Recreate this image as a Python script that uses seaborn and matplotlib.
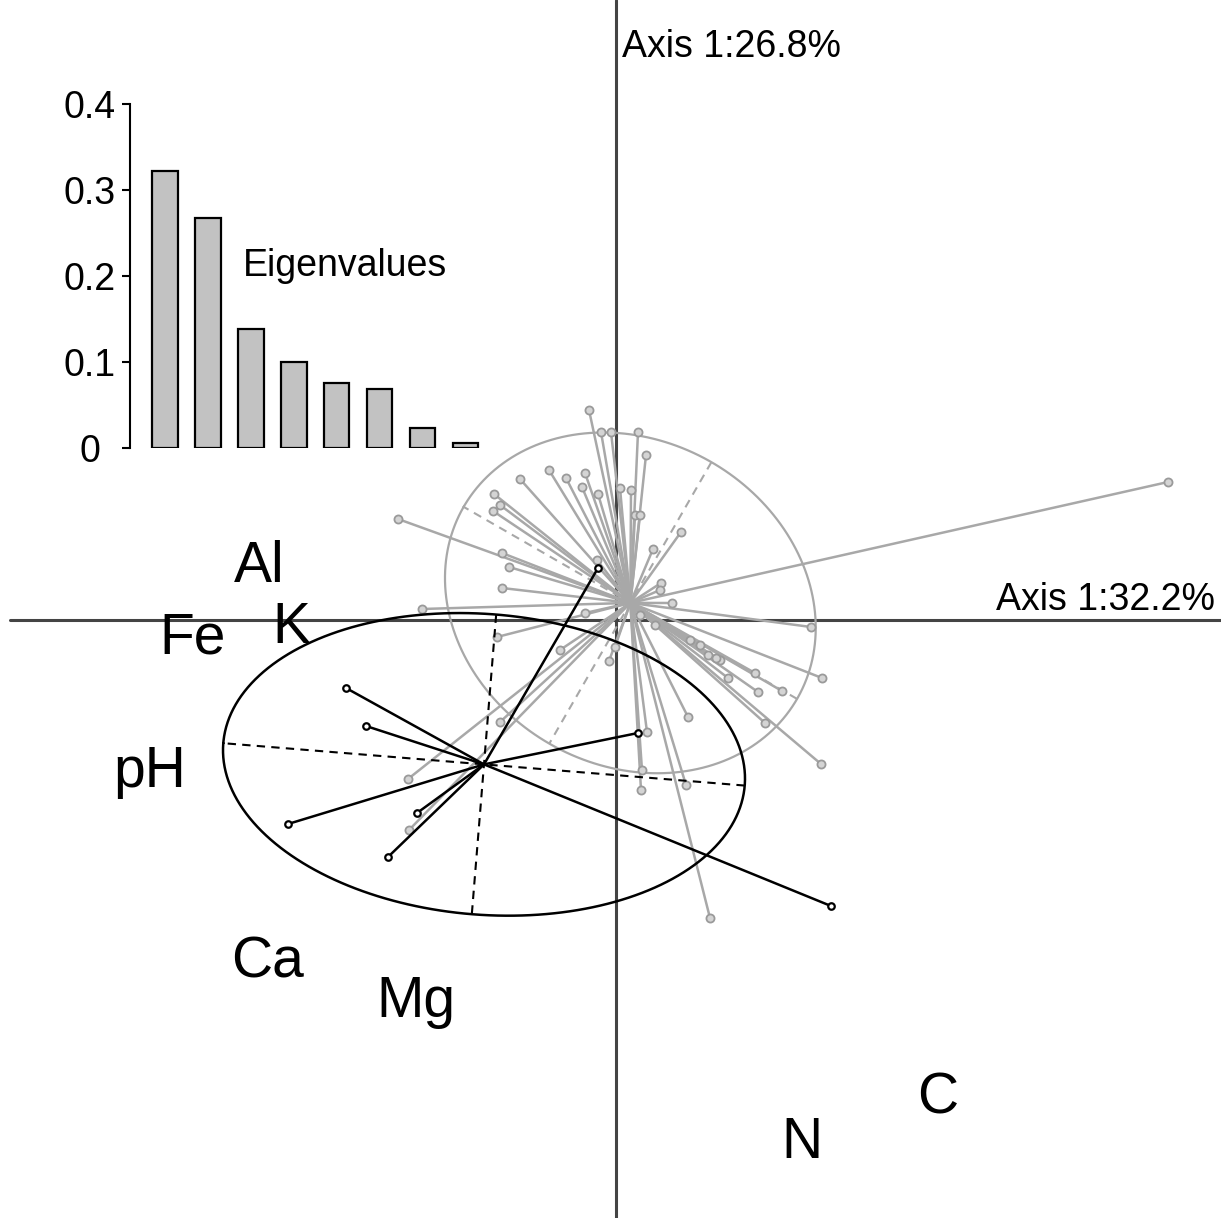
import numpy as np
import pandas as pd
import matplotlib
matplotlib.use("Agg")
import matplotlib.pyplot as plt
import seaborn as sns

# ---------------- data ----------------
eig_labels = ["1", "2", "3", "4", "5", "6", "7", "8"]
eig_values = [0.322, 0.268, 0.138, 0.0995, 0.0757, 0.068, 0.0226, 0.005]
eig_ticks = [0, 0.1, 0.2, 0.3, 0.4]
eig_ticklabels = ["0", "0.1", "0.2", "0.3", "0.4"]

# group A (black)
black_x = [-2.70, -2.50, -3.28, -1.99, -2.28, 0.22, 2.15, -0.18]
black_y = [-0.68, -1.06, -2.04, -1.93, -2.37, -1.13, -2.86, 0.52]

# group B (grey)
gray_x = [-0.27, -0.15, -0.05, 0.22, 0.30, -0.50, -0.31, -0.34, -0.18, 0.04,
          0.15, 0.19, 0.24, 0.65, 0.37, -0.19, -0.67, -0.96, -1.22, -1.16,
          -1.23, -1.14, -1.07, -1.14, -0.31, 0.56, 1.95, 2.06, 1.66, 1.39,
          1.42, 1.04, 1.12, 1.49, 0.72, 0.31, 0.26, 0.25, 0.70, 0.94,
          2.05, 5.52, -2.08, -2.07, -1.16, -0.56, -0.01, -0.07, -1.19, -1.94,
          -2.18, 0.45, 0.24, 0.39, 0.84, 0.92, 0.74, 0.44, 1.00]
gray_y = [2.10, 1.88, 1.88, 1.88, 1.65, 1.42, 1.47, 1.33, 1.26, 1.32,
          1.30, 1.05, 1.05, 0.88, 0.71, 0.60, 1.50, 1.41, 1.26, 1.15,
          1.09, 0.67, 0.53, 0.32, 0.07, 0.17, -0.07, -0.58, -0.71, -0.53,
          -0.72, -0.40, -0.58, -1.03, -0.97, -1.12, -1.50, -1.70, -1.65, -2.98,
          -1.44, 1.38, -1.59, -2.10, -1.02, -0.30, -0.27, -0.41, -0.17, 0.11,
          1.01, 0.37, 0.05, -0.05, -0.25, -0.35, -0.20, 0.30, -0.38]

var_labels = ["Al", "Fe", "K", "pH", "Ca", "Mg", "N", "C"]
var_x = [-3.57, -4.23, -3.25, -4.66, -3.49, -2.00, 1.86, 3.22]
var_y = [0.38, -0.33, -0.23, -1.67, -3.57, -3.97, -5.38, -4.93]

axis_title_h = "Axis 1:32.2%"
axis_title_v = "Axis 1:26.8%"

# ---------------- style ----------------
sns.set_style("white")
plt.rcParams["font.family"] = ["Liberation Sans", "DejaVu Sans"]
plt.rcParams["text.color"] = "black"
plt.rcParams["ytick.color"] = "black"
plt.rcParams["ytick.labelcolor"] = "black"

W, H = 1221, 1218
fig = plt.figure(figsize=(W / 100, H / 100), dpi=100)
ax = fig.add_axes([0, 0, 1, 1])
ax.set_xlim(-6.16, 6.05)
ax.set_ylim(-5.98, 6.20)
ax.axis("off")

axis_col = "#444444"
ax.plot([-6.06, 6.05], [0, 0], color=axis_col, lw=2.2, zorder=1)
ax.plot([0, 0], [-5.98, 6.20], color=axis_col, lw=2.2, zorder=1)

ax.text(0.06, 5.63, axis_title_v, fontsize=27, ha="left", va="baseline",
        color="black")
ax.text(5.99, 0.10, axis_title_h, fontsize=27, ha="right", va="baseline",
        color="black")


def class_plot(x, y, col, lw_star, lw_ell, z):
    x = np.asarray(x)
    y = np.asarray(y)
    cx, cy = x.mean(), y.mean()
    for xi, yi in zip(x, y):
        ax.plot([cx, xi], [cy, yi], color=col, lw=lw_star, zorder=z,
                solid_capstyle="round")
    cov = np.cov(np.vstack([x, y]), bias=True)
    vals, vecs = np.linalg.eigh(cov)
    a = 1.5 * np.sqrt(vals[1])
    b = 1.5 * np.sqrt(vals[0])
    v1 = vecs[:, 1]
    v2 = vecs[:, 0]
    t = np.linspace(0, 2 * np.pi, 400)
    ex = cx + a * np.cos(t) * v1[0] + b * np.sin(t) * v2[0]
    ey = cy + a * np.cos(t) * v1[1] + b * np.sin(t) * v2[1]
    ax.plot(ex, ey, color=col, lw=lw_ell, zorder=z)
    for v, s in ((v1, a), (v2, b)):
        ax.plot([cx - s * v[0], cx + s * v[0]], [cy - s * v[1], cy + s * v[1]],
                color=col, lw=1.5, ls=(0, (4, 3)), zorder=z)
    return cx, cy


class_plot(gray_x, gray_y, "#a8a8a8", 1.8, 1.6, 2)
gdf = pd.DataFrame({"x": gray_x, "y": gray_y})
sns.scatterplot(data=gdf, x="x", y="y", ax=ax, marker="o", s=34,
                facecolor="#d4d4d4", edgecolor="#9a9a9a", linewidth=1.3,
                zorder=3, legend=False)

class_plot(black_x, black_y, "black", 1.8, 1.8, 4)
bdf = pd.DataFrame({"x": black_x, "y": black_y})
sns.scatterplot(data=bdf, x="x", y="y", ax=ax, marker="o", s=22,
                facecolor="white", edgecolor="black", linewidth=1.6,
                zorder=5, legend=False)
ax.set_xlim(-6.16, 6.05)
ax.set_ylim(-5.98, 6.20)
ax.set_xlabel("")
ax.set_ylabel("")

for lab, lx, ly in zip(var_labels, var_x, var_y):
    ax.text(lx, ly, lab, fontsize=41, ha="center", va="baseline", zorder=6,
            color="black")

# ---------------- eigenvalue inset ----------------
left, right = 130, 487
bottom, top = 447.7, 104.3
ax_in = fig.add_axes([left / W, 1 - bottom / H, (right - left) / W, (bottom - top) / H])
edf = pd.DataFrame({"axis": eig_labels, "value": eig_values})
sns.barplot(data=edf, x="axis", y="value", ax=ax_in, color="#c2c2c2",
            saturation=1, edgecolor="black", linewidth=1.6, width=0.6)
ax_in.patch.set_alpha(0)
ax_in.set_xlim(-0.807, 7.5)
ax_in.set_ylim(0, 0.4)
for s in ("top", "right", "bottom"):
    ax_in.spines[s].set_visible(False)
ax_in.spines["left"].set_bounds(0, 0.4)
ax_in.spines["left"].set_linewidth(1.5)
ax_in.spines["left"].set_color("black")
ax_in.set_xticks([])
ax_in.set_yticks(eig_ticks)
ax_in.set_yticklabels(eig_ticklabels, ha="center")
ax_in.tick_params(axis="y", direction="out", length=6, width=1.5,
                  labelsize=27, pad=23, left=True, colors="black",
                  labelcolor="black")
ax_in.set_xlabel("")
ax_in.set_ylabel("")
ax_in.text(1.82, 0.2, "Eigenvalues", fontsize=27, ha="left", va="baseline",
           color="black")

fig.savefig("out.png", dpi=100)
